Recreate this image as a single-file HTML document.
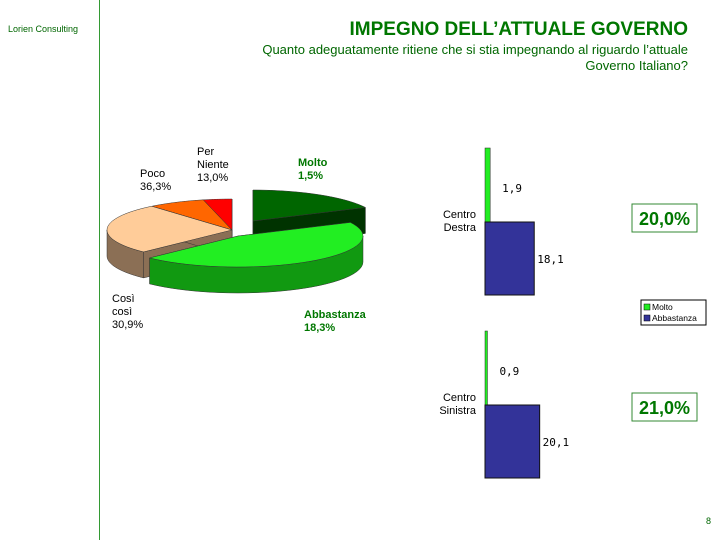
<!DOCTYPE html>
<html><head><meta charset="utf-8"><style>
body{margin:0;width:720px;height:540px;background:#fff;overflow:hidden;position:relative;font-family:"Liberation Sans","DejaVu Sans",sans-serif}
.t{position:absolute;white-space:nowrap}
</style></head><body>
<div class="t" style="left:8px;top:24px;font-size:9px;color:#006600">Lorien Consulting</div>
<div style="position:absolute;left:99px;top:0;width:1px;height:540px;background:#339933"></div>
<div class="t" style="right:32px;top:19px;font-size:19px;font-weight:bold;color:#007700">IMPEGNO DELL’ATTUALE GOVERNO</div>
<div class="t" style="right:32px;top:42px;font-size:13px;line-height:16px;color:#006600;text-align:right">Quanto adeguatamente ritiene che si stia impegnando al riguardo l’attuale<br>Governo Italiano?</div>
<div class="t" style="left:706px;top:516px;font-size:9px;color:#006600">8</div>

<svg id="chart" width="720" height="540" style="position:absolute;left:0;top:0"></svg>

<script>
const pieLabels=["Molto 1,5%","Abbastanza 18,3%","Così così 30,9%","Poco 36,3%","Per Niente 13,0%"];
const pieShares=[17.8,44.7,26.4,7.4,3.7];
const barGroups=["Centro Destra","Centro Sinistra"];
const molto=[1.9,0.9];
const abbastanza=[18.1,20.1];
const totals=["20,0%","21,0%"];

const NS="http://www.w3.org/2000/svg";
const svg=document.getElementById('chart');
function mk(tag,attrs,parent){const e=document.createElementNS(NS,tag);for(const k in attrs)e.setAttribute(k,attrs[k]);(parent||svg).appendChild(e);return e;}

// pie
const cx=232,cy=230,rx=125,ry=31,depth=26;
const tops=["#006600","#22ee22","#ffcc99","#ff6600","#ff0000"];
const sides=["#003300","#119911","#8b6f55","#b34700","#aa0000"];
const explode=[[21,-9],[6,6],[0,0],[0,0],[0,0]];
const pieNames=["molto","abbastanza","cosi-cosi","poco","per-niente"];
function pt(th,ox,oy,dz){const r=th*Math.PI/180;return [cx+ox+rx*Math.sin(r),cy+oy-ry*Math.cos(r)+(dz||0)];}
const sum=pieShares.reduce((a,b)=>a+b,0);
let acc=0;const slices=[];
pieShares.forEach((v,i)=>{const a=acc/sum*360;acc+=v;const b=acc/sum*360;slices.push({i,a,b});});
const order=slices.slice().sort((s,t)=>(cy-ry*Math.cos((s.a+s.b)/2*Math.PI/180)+explode[s.i][1])-(cy-ry*Math.cos((t.a+t.b)/2*Math.PI/180)+explode[t.i][1]));
order.forEach(s=>{
  const [ox,oy]=explode[s.i];
  const g=mk('g',{});
  
  
  const vx=cx+ox,vy=cy+oy;
  [s.a,s.b].forEach(th=>{const p=pt(th,ox,oy);
    mk('path',{d:`M${vx},${vy} L${p[0]},${p[1]} L${p[0]},${p[1]+depth} L${vx},${vy+depth}Z`,fill:sides[s.i],stroke:'#333','stroke-width':0.5},g);});
  const a=Math.max(s.a,90),b=Math.min(s.b,270);
  if(b>a){let d='';const N=30;
    for(let k=0;k<=N;k++){const p=pt(a+(b-a)*k/N,ox,oy);d+=(k?'L':'M')+p[0]+','+p[1];}
    for(let k=N;k>=0;k--){const p=pt(a+(b-a)*k/N,ox,oy,depth);d+='L'+p[0]+','+p[1];}
    mk('path',{d:d+'Z',fill:sides[s.i],stroke:'#333','stroke-width':0.5},g);}
  let d=`M${vx},${vy}`;const N=40;
  for(let k=0;k<=N;k++){const p=pt(s.a+(s.b-s.a)*k/N,ox,oy);d+='L'+p[0]+','+p[1];}
  mk('path',{d:d+'Z',fill:tops[s.i],stroke:'#333','stroke-width':0.5},g);
});
function label(x,y,lines,opts,name){const t=mk('text',{x:x,y:y,'font-size':11,fill:opts.fill||'#000','font-weight':opts.bold?'bold':'normal'});
  
  lines.forEach((l,k)=>{const ts=mk('tspan',{x:x,dy:k?13:0},t);ts.textContent=l;});}
label(298,166,["Molto","1,5%"],{bold:1,fill:'#007700'},'label-molto');
label(304,318,["Abbastanza","18,3%"],{bold:1,fill:'#007700'},'label-abbastanza');
label(112,302,["Così","così","30,9%"],{},'label-cosi-cosi');
label(140,177,["Poco","36,3%"],{},'label-poco');
label(197,155,["Per","Niente","13,0%"],{},'label-per-niente');

// bars
const x0=485,scale=2.72;
const gy=[148,331],gh=74,bh=73;
function xs(v){return x0+v*scale;}
barGroups.forEach((gname,i)=>{
  const y=gy[i];
  const r1=mk('rect',{x:x0,y:y,width:xs(molto[i])-x0,height:gh,fill:'#22ee22',stroke:'#222','stroke-width':0.5});
  
  
  const r2=mk('rect',{x:x0,y:y+gh,width:xs(abbastanza[i])-x0,height:bh,fill:'#333399',stroke:'#111','stroke-width':1});
  
  
  const v1=mk('text',{x:xs(molto[i])+12,y:y+44,'font-size':11,'font-family':'DejaVu Sans Mono, monospace'});v1.textContent=String(molto[i]).replace('.',',');
  
  const v2=mk('text',{x:xs(abbastanza[i])+3,y:y+gh+41,'font-size':11,'font-family':'DejaVu Sans Mono, monospace'});v2.textContent=String(abbastanza[i]).replace('.',',');
  
  const parts=gname.split(' ');
  const c=mk('text',{x:476,y:y+70,'font-size':11,'text-anchor':'end'});
  
  parts.forEach((p,k)=>{const ts=mk('tspan',{x:476,dy:k?13:0},c);ts.textContent=p;});
  const by=i?393:204;
  const bx=mk('rect',{x:632,y:by,width:65,height:28,fill:'#fff',stroke:'#338833','stroke-width':1});
  
  const bt=mk('text',{x:664.5,y:by+21,'font-size':18,'font-weight':'bold',fill:'#007700','text-anchor':'middle'});
  bt.textContent=totals[i];
});
const lg=mk('g',{});
mk('rect',{x:641,y:300,width:65,height:25,fill:'#fff',stroke:'#000','stroke-width':1},lg);
[['Molto','#22ee22'],['Abbastanza','#333399']].forEach((e,k)=>{
  mk('rect',{x:644,y:304+k*11,width:6,height:6,fill:e[1],stroke:'#000','stroke-width':0.5},lg);
  const t=mk('text',{x:652,y:310+k*11,'font-size':8.5},lg);t.textContent=e[0];
  
});
</script>
</body></html>
